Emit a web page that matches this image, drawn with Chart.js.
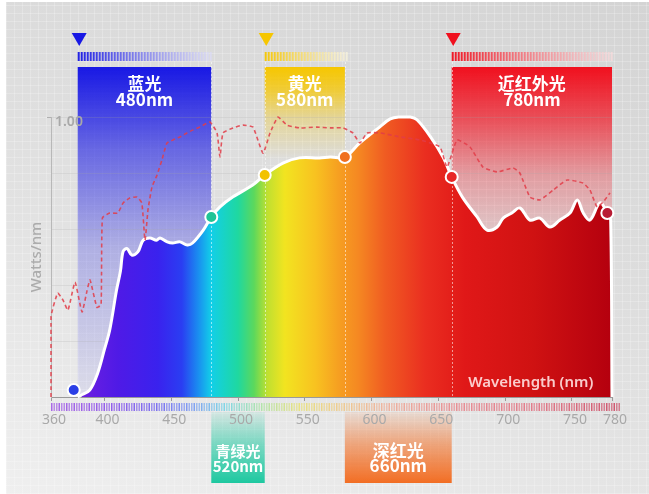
<!DOCTYPE html>
<html>
<head>
<meta charset="utf-8">
<script src="https://cdn.jsdelivr.net/npm/chart.js@4/dist/chart.umd.min.js"></script>
<style>
html, body { margin: 0; padding: 0; background: #fff; }
#wrap { position: relative; width: 649px; height: 494px; overflow: hidden; background: #fff; }
#bg {
  position: absolute; left: 6px; top: 2px; right: 0; bottom: 0;
  background:
    repeating-linear-gradient(0deg, rgba(255,255,255,0.22) 0 1px, transparent 1px 8px),
    repeating-linear-gradient(90deg, rgba(255,255,255,0.22) 0 1px, transparent 1px 8px),
    linear-gradient(20deg, #efefef 0%, #e2e2e2 40%, #d4d4d4 100%);
}
canvas { position: absolute; left: 0; top: 0; }
</style>
</head>
<body>
<div id="wrap">
  <div id="bg"></div>
  <canvas id="spectrumChart" width="649" height="494"></canvas>
</div>
<script>
// 光谱曲线 (nm, 相对值)
const wavelengths = [380, 382, 389, 395, 400, 404, 409, 412, 414, 417, 420.5, 425, 429, 434, 439, 441.5, 447, 451, 456.5, 462, 466, 474, 480, 486.5, 496, 511, 520, 534, 546, 561, 569, 580, 591, 606, 614, 621, 629, 634, 644, 653.5, 660, 668, 679, 686.5, 694, 698.5, 705, 711, 718.5, 726, 733.5, 741, 748.5, 754, 758.5, 763.5, 771, 776.5, 779, 780];
const spectrum = [0, 0.005, 0.025, 0.086, 0.17, 0.24, 0.38, 0.45, 0.52, 0.53, 0.507, 0.518, 0.56, 0.568, 0.56, 0.568, 0.554, 0.55, 0.554, 0.543, 0.55, 0.596, 0.643, 0.679, 0.714, 0.757, 0.793, 0.836, 0.854, 0.854, 0.857, 0.857, 0.907, 0.964, 0.993, 1.0, 1.0, 0.99, 0.93, 0.857, 0.786, 0.714, 0.643, 0.596, 0.607, 0.639, 0.657, 0.675, 0.632, 0.639, 0.607, 0.632, 0.657, 0.704, 0.657, 0.632, 0.693, 0.657, 0.632, 0];

// 参考光谱 (虚线)
const refWavelengths = [360, 360, 365, 369, 372.7, 378, 383.2, 387, 389.2, 394.4, 397.5, 398.5, 404, 410, 414, 419, 424.4, 428, 430.4, 432.6, 435.6, 439.4, 443, 446.8, 451.3, 456.6, 461.8, 466.3, 471.5, 479, 484.3, 486.5, 488.8, 496.3, 503.7, 511.2, 518.7, 524, 530, 536.7, 546.4, 559, 569, 578.6, 586, 591.3, 596.6, 606.3, 621.3, 636.3, 651.2, 656.5, 664, 673.7, 683.4, 694, 706, 711, 718.6, 726, 736, 746.3, 758.3, 763.5, 768.8, 773.3, 778.5];
const reference = [0, 0.286, 0.371, 0.346, 0.31, 0.41, 0.304, 0.38, 0.418, 0.32, 0.33, 0.64, 0.657, 0.657, 0.693, 0.711, 0.714, 0.693, 0.56, 0.668, 0.75, 0.793, 0.846, 0.907, 0.918, 0.929, 0.943, 0.954, 0.964, 0.982, 0.943, 0.857, 0.943, 0.961, 0.971, 0.964, 0.871, 0.943, 1.0, 0.971, 0.961, 0.964, 0.961, 0.961, 0.943, 0.907, 0.943, 0.943, 0.929, 0.918, 0.893, 0.821, 0.918, 0.893, 0.821, 0.804, 0.818, 0.8, 0.714, 0.704, 0.739, 0.775, 0.764, 0.739, 0.679, 0.696, 0.729];

// 分界点
const markerNm = [377, 480, 520, 580, 660, 776.5];
const markerVal = [0.025, 0.643, 0.793, 0.857, 0.786, 0.657];

const xTicks = [360, 400, 450, 500, 550, 600, 650, 700, 750, 780];

const topBandFrom = [380, 520, 660];
const topBandTo = [480, 580, 780];
const topBandName = ['蓝光', '黄光', '近红外光'];
const topBandNm = ['480nm', '580nm', '780nm'];

const bottomBandFrom = [480, 580];
const bottomBandTo = [520, 660];
const bottomBandName = ['青绿光', '深红光'];
const bottomBandNm = ['520nm', '660nm'];

// ---- styles ----
const fillStops = [[380,'#7020e0'],[410,'#4f1ae6'],[440,'#3a22ee'],[458,'#2a3ef2'],[470,'#1a8cf0'],[480,'#12cfe8'],[500,'#1fd8a0'],[512,'#5cd85c'],[522,'#c0e030'],[535,'#f2e420'],[558,'#f8c220'],[575,'#f6a021'],[590,'#f58822'],[610,'#f05c22'],[640,'#ea2e20'],[670,'#e01818'],[720,'#d01212'],[780,'#b4000e']];
const markerColors = ['#2b3fe6', '#1fc496', '#f2c200', '#f07020', '#e82626', '#b81c34'];
const topBandRgb = [[24, 24, 228], [246, 198, 0], [240, 16, 30]];
// alpha at 0 / 0.25 / 0.55 / 1 of the fade, and where the fade ends (px)
const topBandFade = [[1, 0.6, 0.25, 0.06, 397], [1, 0.75, 0.3, 0, 160], [1, 0.7, 0.3, 0, 265]];
const bottomBandRgb = [[30, 200, 160], [242, 110, 36]];
const stripStops = [[360,[170,105,230]],[400,[150,95,234]],[440,[125,115,240]],[465,[130,160,242]],[490,[130,215,230]],[515,[175,228,175]],[545,[232,226,130]],[575,[238,205,145]],[610,[238,180,160]],[660,[232,145,150]],[720,[226,125,140]],[790,[205,85,110]]];
const cjk = '"Noto Sans CJK SC", "Noto Sans", sans-serif';

const rgba = (c, a) => `rgba(${c[0]},${c[1]},${c[2]},${a})`;

function lerpStops(stops, v) {
  if (v <= stops[0][0]) return stops[0][1];
  for (let i = 1; i < stops.length; i++) {
    if (v <= stops[i][0]) {
      const t = (v - stops[i - 1][0]) / (stops[i][0] - stops[i - 1][0]);
      const a = stops[i - 1][1], b = stops[i][1];
      return [0, 1, 2].map(k => Math.round(a[k] + (b[k] - a[k]) * t));
    }
  }
  return stops[stops.length - 1][1];
}

function spectrumFill(context) {
  const chart = context.chart;
  if (!chart.chartArea) return null;
  const xs = chart.scales.x;
  const x0 = xs.getPixelForValue(360), x1 = xs.getPixelForValue(780);
  const g = chart.ctx.createLinearGradient(x0, 0, x1, 0);
  fillStops.forEach(([nm, c]) => g.addColorStop((nm - 360) / 420, c));
  return g;
}

const decoPlugin = {
  id: 'deco',
  beforeDraw(chart) {
    const { ctx, scales: { x } } = chart;
    ctx.save();
    // top band boxes
    topBandFrom.forEach((from, i) => {
      const x0 = x.getPixelForValue(from), x1 = x.getPixelForValue(topBandTo[i]);
      const [a0, a1, a2, a3, yEnd] = topBandFade[i];
      const g = ctx.createLinearGradient(0, 67, 0, yEnd);
      g.addColorStop(0, rgba(topBandRgb[i], a0));
      g.addColorStop(0.25, rgba(topBandRgb[i], a1));
      g.addColorStop(0.55, rgba(topBandRgb[i], a2));
      g.addColorStop(1, rgba(topBandRgb[i], a3));
      ctx.fillStyle = g;
      ctx.fillRect(x0, 67, x1 - x0, yEnd - 67);
    });
    // bottom band boxes
    bottomBandFrom.forEach((from, i) => {
      const x0 = x.getPixelForValue(from), x1 = x.getPixelForValue(bottomBandTo[i]);
      const g = ctx.createLinearGradient(0, 412, 0, 483);
      g.addColorStop(0, rgba(bottomBandRgb[i], 0.1));
      g.addColorStop(0.45, rgba(bottomBandRgb[i], 0.55));
      g.addColorStop(1, rgba(bottomBandRgb[i], 1));
      ctx.fillStyle = g;
      ctx.fillRect(x0, 412, x1 - x0, 71);
      ctx.fillStyle = '#fff';
      ctx.textAlign = 'center';
      ctx.textBaseline = 'middle';
      const size = (x1 - x0) < 70 ? 15 : 17;
      ctx.font = `bold ${size}px ${cjk}`;
      const cx = (x0 + x1) / 2;
      ctx.fillText(bottomBandName[i], cx, 451);
      ctx.fillText(bottomBandNm[i], cx, 466);
    });
    ctx.restore();
  },
  afterDatasetDraw(chart, args) {
    if (args.index !== 0) return;
    const { ctx, scales: { x, y } } = chart;
    const base = y.getPixelForValue(0);
    const edges = [480, 520, 580, 660];
    ctx.save();
    ctx.strokeStyle = 'rgba(255,255,255,0.55)';
    ctx.lineWidth = 1;
    ctx.setLineDash([2, 2]);
    edges.forEach(nm => {
      const px = Math.round(x.getPixelForValue(nm)) + 0.5;
      ctx.beginPath();
      ctx.moveTo(px, 62);
      ctx.lineTo(px, base);
      ctx.stroke();
    });
    ctx.restore();
  },
  afterDatasetsDraw(chart) {
    const { ctx, scales: { x, y } } = chart;
    ctx.save();
    topBandFrom.forEach((from, i) => {
      const x0 = x.getPixelForValue(from), x1 = x.getPixelForValue(topBandTo[i]);
      const c = topBandRgb[i];
      // triangle
      ctx.fillStyle = rgba(c, 1);
      ctx.beginPath();
      ctx.moveTo(x0 - 6, 33);
      ctx.lineTo(x0 + 9, 33);
      ctx.lineTo(x0 + 1.5, 46);
      ctx.closePath();
      ctx.fill();
      // tick strip
      for (let px = x0; px <= x1 + 1; px += 3) {
        const t = (px - x0) / (x1 - x0);
        const m = [0, 1, 2].map(k => Math.round(c[k] + (255 - c[k]) * t * 0.85));
        ctx.fillStyle = rgba(m, 0.95 - t * 0.3);
        ctx.fillRect(px, 52, 2, 9);
      }
      // label
      ctx.fillStyle = '#fff';
      ctx.textAlign = 'center';
      ctx.textBaseline = 'middle';
      ctx.font = `bold 17px ${cjk}`;
      const cx = (x0 + x1) / 2;
      ctx.fillText(topBandName[i], cx, 84);
      ctx.fillText(topBandNm[i], cx, 100);
    });
    // bottom colored strip
    const sx0 = x.getPixelForValue(360), sx1 = x.getPixelForValue(786);
    let n = 0;
    for (let px = sx0; px <= sx1; px += 2.5, n++) {
      const c = lerpStops(stripStops, x.getValueForPixel(px));
      ctx.fillStyle = rgba(c, n % 3 === 0 ? 1 : 0.75);
      ctx.fillRect(px, 403, 1.5, 8);
    }
    // axis name inside
    ctx.fillStyle = 'rgba(255,225,225,0.9)';
    ctx.textAlign = 'right';
    ctx.textBaseline = 'middle';
    ctx.font = '600 15px "Noto Sans", sans-serif';
    ctx.fillText('Wavelength (nm)', x.getPixelForValue(766), 383);
    ctx.restore();
  }
};

const ctx = document.getElementById('spectrumChart').getContext('2d');
const spectrumChart = new Chart(ctx, {
  type: 'line',
  data: {
    datasets: [
      {
        label: 'Spectrum',
        data: wavelengths.map((w, i) => ({ x: w, y: spectrum[i] })),
        borderColor: '#ffffff',
        borderWidth: 3,
        backgroundColor: spectrumFill,
        fill: 'origin',
        tension: 0.35,
        pointRadius: 0,
        clip: false,
        order: 3,
      },
      {
        label: 'Reference',
        data: refWavelengths.map((w, i) => ({ x: w, y: reference[i] })),
        borderColor: 'rgba(226,60,72,0.85)',
        borderWidth: 1.6,
        borderDash: [4, 3],
        fill: false,
        tension: 0.15,
        pointRadius: 0,
        clip: false,
        order: 2,
      },
      {
        label: 'Markers',
        data: markerNm.map((w, i) => ({ x: w, y: markerVal[i] })),
        showLine: false,
        pointRadius: 6,
        pointBorderWidth: 2,
        pointBackgroundColor: markerColors,
        pointBorderColor: '#ffffff',
        clip: false,
        order: 1,
      },
    ],
  },
  options: {
    responsive: false,
    animation: false,
    layout: { padding: { left: 0, right: 37, top: 117, bottom: 0 } },
    plugins: { legend: { display: false }, tooltip: { enabled: false } },
    scales: {
      x: {
        type: 'linear',
        min: 360,
        max: 780,
        afterBuildTicks: (scale) => { scale.ticks = xTicks.map(v => ({ value: v })); },
        afterFit: (scale) => { scale.height = 97; },
        grid: { drawOnChartArea: false, drawTicks: true, tickLength: 4, tickColor: '#9a9a9a' },
        border: { display: true, color: '#9a9a9a', width: 1 },
        ticks: {
          autoSkip: false,
          maxRotation: 0,
          padding: 11,
          labelOffset: 3,
          color: '#a9a9a9',
          font: { family: '"Noto Sans", sans-serif', size: 14 },
          callback: (v) => String(v),
        },
      },
      y: {
        min: 0,
        max: 1,
        afterFit: (scale) => { scale.width = 51; },
        grid: {
          color: 'rgba(150,150,150,0.22)',
          drawTicks: true,
          tickLength: 4,
          tickColor: (c) => (c.tick && c.tick.value === 1 ? '#b0b0b0' : 'rgba(0,0,0,0)'),
        },
        border: { display: true, color: '#b8b8b8', width: 1 },
        ticks: {
          stepSize: 0.2,
          mirror: true,
          padding: 4,
          labelOffset: 5,
          color: '#a8a8a8',
          font: { family: '"Noto Sans", sans-serif', size: 14, weight: '600' },
          callback: (v) => (v === 1 ? '1.00' : ''),
        },
        title: {
          display: true,
          text: 'Watts/nm',
          color: '#acacac',
          font: { family: '"Noto Sans", sans-serif', size: 15, weight: '500' },
          padding: { top: 28, bottom: 0 },
        },
      },
    },
  },
  plugins: [decoPlugin],
});
</script>
</body>
</html>
